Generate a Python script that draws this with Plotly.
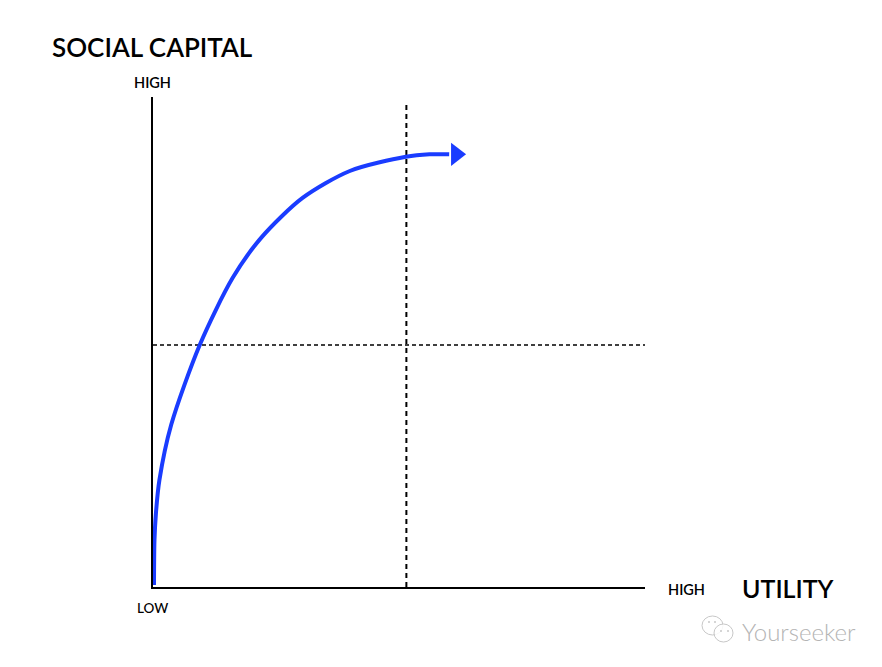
import plotly.graph_objects as go

W, H = 866, 651  # page body keeps an 8px margin
OFFSET = 8
LEFT, RIGHT, TOP, BOTTOM = 153, 645, 97, 587

# curve, both axes 0-100
utility = [0.2, 0.3, 0.6, 1.3, 3.7, 9.5, 16.2, 22.1, 30.4, 40.0, 51.4, 56.2, 60.2]
social_capital = [0.4, 9.6, 15.1, 21.8, 33.1, 49.4, 63.1, 71.4, 79.4, 84.9, 87.8, 88.3, 88.3]
arrow_x = [61.6]
arrow_y = [88.3]
mid_x = 51.5
mid_y = 49.4
dash_x_end = 100
dash_y_end = 99

BLUE = "#1a3cff"
FONT = "Lato"


def px_x(p):
    return (p - LEFT) / (RIGHT - LEFT)


def px_y(p):
    return (BOTTOM - p) / (BOTTOM - TOP)


fig = go.Figure()
# dashed guides
fig.add_trace(go.Scatter(x=[mid_x, mid_x], y=[0, dash_y_end], mode="lines",
                         line=dict(color="black", width=2, dash="5px,4px"), hoverinfo="skip"))
fig.add_trace(go.Scatter(x=[0, dash_x_end], y=[mid_y, mid_y], mode="lines",
                         line=dict(color="black", width=1.5, dash="4px,3px"), hoverinfo="skip"))
# curve + arrow head
fig.add_trace(go.Scatter(x=utility, y=social_capital, mode="lines",
                         line=dict(color=BLUE, width=4, shape="spline", smoothing=0.8), hoverinfo="skip"))
fig.add_trace(go.Scatter(x=arrow_x, y=arrow_y, mode="markers",
                         marker=dict(symbol="triangle-right", color=BLUE, size=20), hoverinfo="skip"))

labels = [
    ("SOCIAL CAPITAL", 51, 47, 26, "#000000", 600),
    ("HIGH", 133, 82, 14.5, "#000000", 600),
    ("LOW", 136, 608, 13.5, "#000000", 500),
    ("HIGH", 667, 589, 14.5, "#000000", 600),
    ("UTILITY", 741, 588, 25, "#000000", 600),
    ("Yourseeker", 741, 631, 24, "#b4b4b4", 300),
]
for text, x, y, size, color, weight in labels:
    fig.add_annotation(x=px_x(x), y=px_y(y), xref="paper", yref="paper", text=text, showarrow=False,
                       xanchor="left", yanchor="middle", xshift=-1,
                       font=dict(family=FONT, size=size, color=color, weight=weight))

# watermark bubbles
for x0, y0, x1, y1 in [(702, 616, 723, 635), (714, 624, 733, 642)]:
    fig.add_shape(type="circle", xref="paper", yref="paper",
                  x0=px_x(x0), x1=px_x(x1), y0=px_y(y0), y1=px_y(y1),
                  line=dict(color="#c8c8c8", width=1), fillcolor="rgba(255,255,255,0.85)")
for x0, y0 in [(708, 621), (714, 621), (720, 630), (727, 630)]:
    fig.add_shape(type="circle", xref="paper", yref="paper",
                  x0=px_x(x0), x1=px_x(x0 + 2), y0=px_y(y0), y1=px_y(y0 + 2),
                  line=dict(width=0), fillcolor="#c8c8c8")

fig.update_xaxes(range=[0, 100], showgrid=False, zeroline=False, showticklabels=False, ticks="",
                 showline=True, linecolor="black", linewidth=2)
fig.update_yaxes(range=[0, 100], showgrid=False, zeroline=False, showticklabels=False, ticks="",
                 showline=True, linecolor="black", linewidth=2)
fig.update_layout(width=W, height=H, showlegend=False, plot_bgcolor="white", paper_bgcolor="white",
                  margin=dict(l=LEFT - OFFSET, r=W + OFFSET - RIGHT, t=TOP - OFFSET, b=H + OFFSET - BOTTOM))
fig.write_html("out.html")
